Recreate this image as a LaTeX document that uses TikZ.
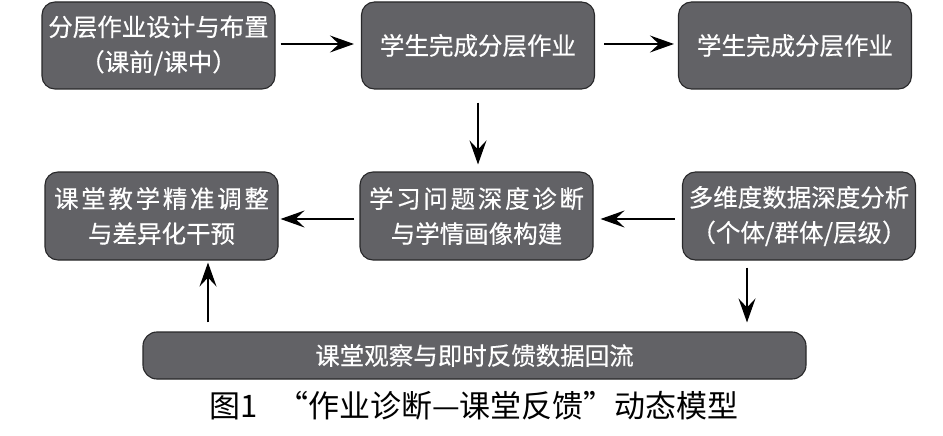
\documentclass[tikz,border=0pt]{standalone}
\usepackage{fontspec}
\usetikzlibrary{arrows.meta,calc}
\newfontfamily\cjk{Noto Sans CJK SC}
\newfontfamily\cjkbox[FakeBold=0.4]{Noto Sans CJK SC}
\definecolor{boxgray}{RGB}{98,98,102}
\definecolor{edgegray}{RGB}{40,40,42}
\tikzset{
  flowbox/.style={draw=edgegray, line width=1.1pt, fill=boxgray, rounded corners=13pt,
    minimum width=233pt, minimum height=87pt, text=white, align=center, inner sep=0pt,
    font=\cjkbox\fontsize{24.5}{35}\selectfont},
  barbox/.style={flowbox, minimum width=663pt, minimum height=47pt, rounded corners=14pt},
  arr/.style={draw=black, line width=1.3pt, -{Stealth[length=24pt,width=17pt,inset=9pt]}},
}
\newcommand{\wide}[1]{{\addfontfeature{LetterSpace=11}#1}}
\begin{document}
\begin{tikzpicture}[x=1pt,y=-1pt]
\useasboundingbox[fill=white] (0,0) rectangle (943,436);
\node[flowbox] (b1) at (158.5,45.5) {分层作业设计与布置\\（课前/课中）};
\node[flowbox] (b2) at (478,45.5) {学生完成分层作业};
\node[flowbox] (b3) at (795,45.5) {学生完成分层作业};
\node[flowbox, minimum height=88pt] (b4) at (161.5,216) {\wide{课堂教学精准调整}\\与差异化干预};
\node[flowbox, minimum height=88pt] (b5) at (476.5,216) {\wide{学习问题深度诊断}\\与学情画像构建};
\node[flowbox, minimum height=88pt] (b6) at (799,216) {多维度数据深度分析\\（个体/群体/层级）};
\node[barbox] (bar) at (474.5,355.5) {课堂观察与即时反馈数据回流};
\node[font=\cjk\fontsize{31}{36}\selectfont, inner sep=0pt] (cap) at (474,406) {图1\hspace{20pt}“作业诊断—课堂反馈”动态模型};
\draw[arr, shorten <=5pt, shorten >=7pt] ([yshift=1.5pt]b1.east) -- ([yshift=1.5pt]b2.west);
\draw[arr, shorten <=9pt, shorten >=4pt] ([yshift=1.5pt]b2.east) -- ([yshift=1.5pt]b3.west);
\draw[arr, shorten <=13pt, shorten >=7pt] (b2.south) -- (b2.south |- b5.north);
\draw[arr, shorten <=7pt, shorten >=7pt] ([yshift=-3pt]b6.west) -- ([yshift=-3pt]b5.east);
\draw[arr, shorten <=5pt, shorten >=2pt] ([yshift=-3pt]b5.west) -- ([yshift=-3pt]b4.east);
\draw[arr, shorten <=7pt, shorten >=9pt] ([xshift=-52pt]b6.south) -- ([xshift=-52pt]b6.south |- bar.north);
\draw[arr, shorten <=9pt, shorten >=2pt] ([xshift=46.5pt]b4.south |- bar.north) -- ([xshift=46.5pt]b4.south);
\end{tikzpicture}
\end{document}
